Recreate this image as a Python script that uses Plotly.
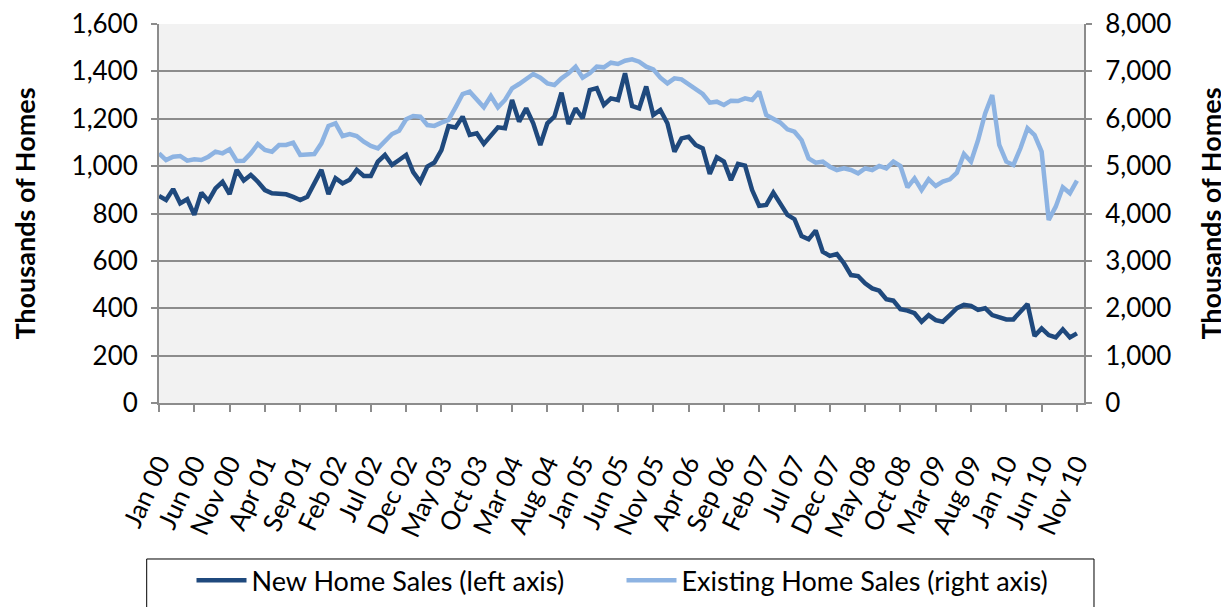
import plotly.graph_objects as go

month_names = ["Jan", "Feb", "Mar", "Apr", "May", "Jun", "Jul", "Aug", "Sep", "Oct", "Nov", "Dec"]
years = ["00", "01", "02", "03", "04", "05", "06", "07", "08", "09", "10"]
categories = [f"{m} {y}" for y in years for m in month_names]  # Jan 00 .. Dec 10

new_home_sales = [
    874, 857, 903, 843, 860, 794, 888, 853, 906, 934, 882, 984,
    939, 963, 934, 899, 885, 882, 881, 870, 857, 871, 927, 984,
    882, 949, 927, 942, 984, 958, 958, 1019, 1047, 1005, 1026, 1047,
    975, 934, 998, 1015, 1068, 1169, 1163, 1209, 1132, 1139, 1094, 1132,
    1164, 1160, 1279, 1188, 1244, 1181, 1089, 1181, 1209, 1310, 1178, 1244,
    1202, 1321, 1329, 1258, 1286, 1279, 1392, 1254, 1244, 1336, 1216, 1237,
    1181, 1061, 1117, 1124, 1089, 1075, 967, 1037, 1019, 941, 1009, 1002,
    899, 832, 836, 888, 843, 794, 776, 705, 691, 728, 639, 621,
    629, 590, 540, 536, 505, 484, 474, 438, 432, 396, 390, 379,
    343, 371, 350, 343, 371, 400, 414, 410, 393, 400, 371, 360,
    353, 353, 386, 418, 283, 315, 287, 277, 311, 277, 294,
]

existing_home_sales = [
    5270, 5129, 5199, 5214, 5115, 5143, 5129, 5199, 5305, 5270, 5354, 5108,
    5115, 5270, 5467, 5340, 5305, 5446, 5446, 5495, 5235, 5256, 5256, 5481,
    5847, 5903, 5636, 5678, 5636, 5516, 5425, 5376, 5537, 5678, 5748, 5988,
    6058, 6044, 5868, 5850, 5917, 5974, 6241, 6522, 6571, 6396, 6241, 6480,
    6241, 6396, 6642, 6733, 6853, 6944, 6867, 6747, 6712, 6853, 6959, 7099,
    6867, 6959, 7099, 7085, 7183, 7156, 7226, 7254, 7205, 7099, 7043, 6867,
    6747, 6853, 6832, 6733, 6607, 6522, 6339, 6360, 6290, 6381, 6374, 6431,
    6396, 6571, 6079, 5988, 5917, 5777, 5727, 5550, 5164, 5073, 5094, 4988,
    4918, 4953, 4918, 4848, 4953, 4918, 5003, 4953, 5094, 5003, 4552, 4742,
    4496, 4721, 4580, 4672, 4721, 4862, 5256, 5094, 5551, 6114, 6501, 5446,
    5094, 5024, 5376, 5798, 5657, 5305, 3863, 4144, 4552, 4426, 4693,
]

tick_labels = categories[::5]
left_ticks = [0, 200, 400, 600, 800, 1000, 1200, 1400, 1600]
right_ticks = [0, 1000, 2000, 3000, 4000, 5000, 6000, 7000, 8000]

DARK = "#1F497D"
LIGHT = "#8DB3E2"
GRID = "#8C8C8C"
FONT = "Lato"

fig = go.Figure()
fig.add_trace(go.Scatter(
    x=categories[:len(new_home_sales)], y=new_home_sales, mode="lines",
    name="New Home Sales (left axis)",
    line=dict(color=DARK, width=4.5), yaxis="y",
))
fig.add_trace(go.Scatter(
    x=categories[:len(existing_home_sales)], y=existing_home_sales, mode="lines",
    name="Existing Home Sales (right axis)",
    line=dict(color=LIGHT, width=4.5), yaxis="y2",
))

axis_font = dict(family=FONT, size=26, color="black")

fig.update_layout(
    width=1221, height=599,
    margin=dict(l=151, r=145, t=16, b=204, autoexpand=False),
    paper_bgcolor="white",
    plot_bgcolor="#F2F2F2",
    font=dict(family=FONT, size=26, color="black"),
    showlegend=True,
    legend=dict(
        orientation="h", x=0.5, xanchor="center", y=-0.404, yanchor="top",
        font=dict(family=FONT, size=27, color="black"),
        bgcolor="rgba(0,0,0,0)", borderwidth=0,
        entrywidth=365, entrywidthmode="pixels", itemwidth=50,
    ),
    xaxis=dict(
        type="category", categoryorder="array", categoryarray=categories,
        range=[0, len(categories) - 1],
        tickmode="array", tickvals=tick_labels, ticktext=tick_labels,
        tickangle=-65, tickfont=axis_font,
        ticks="outside", ticklen=7, tickwidth=1.5, tickcolor=GRID,
        ticklabelstandoff=26, ticklabeloverflow="allow",
        showline=True, linecolor=GRID, linewidth=2,
        showgrid=False, zeroline=False, fixedrange=True,
    ),
    yaxis=dict(
        range=[0, 1600], tickmode="array", tickvals=left_ticks,
        tickformat=",d", tickfont=axis_font,
        ticks="outside", ticklen=6, tickwidth=1.5, tickcolor=GRID,
        ticklabelstandoff=8, ticklabeloverflow="allow",
        showline=True, linecolor=GRID, linewidth=2,
        showgrid=True, gridcolor=GRID, gridwidth=2, zeroline=False,
        title=dict(text="<b>Thousands of Homes</b>", standoff=28,
                   font=dict(family=FONT, size=27, color="black")),
    ),
    yaxis2=dict(
        range=[0, 8000], tickmode="array", tickvals=right_ticks,
        tickformat=",d", tickfont=axis_font,
        overlaying="y", side="right",
        ticks="outside", ticklen=6, tickwidth=1.5, tickcolor=GRID,
        ticklabelstandoff=8, ticklabeloverflow="allow",
        showline=True, linecolor=GRID, linewidth=2,
        showgrid=False, zeroline=False,
        title=dict(text="<b>Thousands of Homes</b>", standoff=32,
                   font=dict(family=FONT, size=27, color="black")),
    ),
    shapes=[dict(
        type="rect", xref="paper", yref="paper",
        x0=-0.0133, x1=1.0108, y0=-0.4116, y1=-0.62,
        line=dict(color="black", width=1), fillcolor="rgba(0,0,0,0)",
    )],
)

fig.write_html("out.html")
